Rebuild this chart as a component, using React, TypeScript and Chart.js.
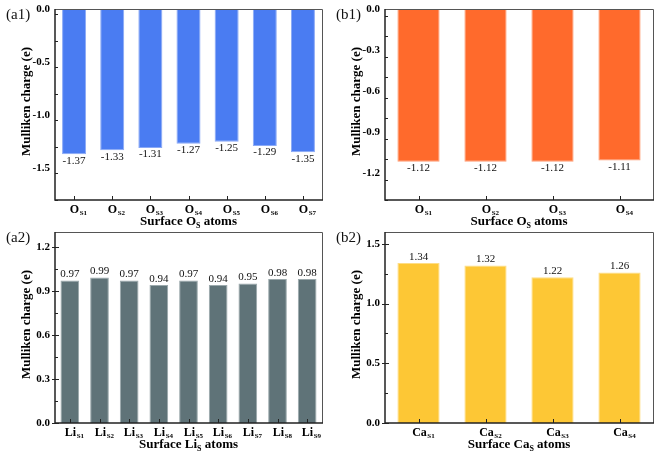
import React, { useEffect, useRef } from 'react';
import { Chart, registerables } from 'chart.js';

Chart.register(...registerables);

// ---- data ----
const a1Subs = ['S1', 'S2', 'S3', 'S4', 'S5', 'S6', 'S7'];
const a1Values = [-1.37, -1.33, -1.31, -1.27, -1.25, -1.29, -1.35];
const a1YTicks = [0, -0.5, -1.0, -1.5];

const b1Subs = ['S1', 'S2', 'S3', 'S4'];
const b1Values = [-1.12, -1.12, -1.12, -1.11];
const b1YTicks = [0, -0.3, -0.6, -0.9, -1.2];

const a2Subs = ['S1', 'S2', 'S3', 'S4', 'S5', 'S6', 'S7', 'S8', 'S9'];
const a2Values = [0.97, 0.99, 0.97, 0.94, 0.97, 0.94, 0.95, 0.98, 0.98];
const a2YTicks = [0, 0.3, 0.6, 0.9, 1.2];

const b2Subs = ['S1', 'S2', 'S3', 'S4'];
const b2Values = [1.34, 1.32, 1.22, 1.26];
const b2YTicks = [0, 0.5, 1.0, 1.5];

const SERIF = '"Liberation Serif", "Times New Roman", serif';

type Panel = {
  key: string;
  label: string;
  element: string;
  subs: string[];
  values: number[];
  yMin: number;
  yMax: number;
  yTicks: number[];
  minorStep: number;
  color: string;
  edge: string;
  left: number;
  top: number;
  width: number;
  height: number;
  padding: { left: number; right: number; top: number; bottom: number };
  labelY: number;
};

const panels: Panel[] = [
  {
    key: 'a1', label: '(a1)', element: 'O', subs: a1Subs, values: a1Values,
    yMin: -1.8, yMax: 0, yTicks: a1YTicks, minorStep: 0.25,
    color: '#4a7cf2', edge: '#8aa9f6',
    left: 0, top: 0, width: 330, height: 230,
    padding: { left: 55, right: 8, top: 9, bottom: 30 }, labelY: 15,
  },
  {
    key: 'b1', label: '(b1)', element: 'O', subs: b1Subs, values: b1Values,
    yMin: -1.4, yMax: 0, yTicks: b1YTicks, minorStep: 0.15,
    color: '#ff6a2c', edge: '#ff9d74',
    left: 330, top: 0, width: 331, height: 230,
    padding: { left: 55, right: 8, top: 9, bottom: 30 }, labelY: 15,
  },
  {
    key: 'a2', label: '(a2)', element: 'Li', subs: a2Subs, values: a2Values,
    yMin: 0, yMax: 1.3, yTicks: a2YTicks, minorStep: 0.15,
    color: '#5f7378', edge: '#9aa8ab',
    left: 0, top: 230, width: 330, height: 231,
    padding: { left: 55, right: 8, top: 2, bottom: 38 }, labelY: 8,
  },
  {
    key: 'b2', label: '(b2)', element: 'Ca', subs: b2Subs, values: b2Values,
    yMin: 0, yMax: 1.6, yTicks: b2YTicks, minorStep: 0.25,
    color: '#fdc735', edge: '#fedd85',
    left: 330, top: 230, width: 331, height: 231,
    padding: { left: 55, right: 8, top: 2, bottom: 38 }, labelY: 8,
  },
];

function makePlugin(p: Panel) {
  return {
    id: 'custom_' + p.key,
    afterDraw(chart: any) {
      const { ctx, chartArea: ca, scales } = chart;
      const xs = scales.x;
      const ys = scales.y;
      ctx.save();

      // frame (top/right)
      ctx.strokeStyle = '#555';
      ctx.lineWidth = 1;
      ctx.beginPath();
      ctx.moveTo(ca.left, ca.top + 0.5);
      ctx.lineTo(ca.right + 0.5, ca.top + 0.5);
      ctx.lineTo(ca.right + 0.5, ca.bottom);
      ctx.stroke();

      // axes (left/bottom)
      ctx.strokeStyle = '#222';
      ctx.lineWidth = 1.5;
      ctx.beginPath();
      ctx.moveTo(ca.left, ca.top);
      ctx.lineTo(ca.left, ca.bottom);
      ctx.lineTo(ca.right + 1, ca.bottom);
      ctx.stroke();

      // y ticks
      ctx.lineWidth = 1;
      ctx.strokeStyle = '#222';
      const lo = Math.min(p.yMin, p.yMax);
      const hi = Math.max(p.yMin, p.yMax);
      const nMinor = Math.round((hi - lo) / p.minorStep);
      for (let i = 0; i <= nMinor; i++) {
        const v = lo + i * p.minorStep;
        const py = Math.round(ys.getPixelForValue(v)) + 0.5;
        const isMajor = p.yTicks.some((t) => Math.abs(t - v) < 1e-6);
        ctx.beginPath();
        if (isMajor) {
          ctx.moveTo(ca.left - 3, py);
          ctx.lineTo(ca.left + 4, py);
        } else {
          ctx.moveTo(ca.left, py);
          ctx.lineTo(ca.left + 3, py);
        }
        ctx.stroke();
      }

      // y tick labels
      ctx.fillStyle = '#000';
      ctx.font = 'bold 11px ' + SERIF;
      ctx.textAlign = 'right';
      ctx.textBaseline = 'middle';
      p.yTicks.forEach((t) => {
        ctx.fillText(t.toFixed(1), ca.left - 5, ys.getPixelForValue(t));
      });

      // x ticks + labels
      p.subs.forEach((s, i) => {
        const px = Math.round(xs.getPixelForValue(i)) + 0.5;
        ctx.beginPath();
        ctx.moveTo(px, ca.bottom);
        ctx.lineTo(px, ca.bottom - 4);
        ctx.stroke();

        ctx.font = 'bold 12px ' + SERIF;
        ctx.textAlign = 'center';
        ctx.textBaseline = 'middle';
        const ly = ca.bottom + 9.5;
        ctx.fillText(p.element, px, ly);
        const w = ctx.measureText(p.element).width;
        ctx.font = 'bold 7px ' + SERIF;
        ctx.textAlign = 'left';
        ctx.fillText(s, px + w / 2 + 0.5, ly + 3.5);
      });

      // x title: Surface X_S atoms
      {
        const main1 = 'Surface ' + p.element;
        const sub = 'S';
        const main2 = ' atoms';
        ctx.font = 'bold 13px ' + SERIF;
        const w1 = ctx.measureText(main1).width;
        const w3 = ctx.measureText(main2).width;
        ctx.font = 'bold 8px ' + SERIF;
        const w2 = ctx.measureText(sub).width;
        const total = w1 + w2 + w3;
        const cx = (ca.left + ca.right) / 2;
        let x0 = cx - total / 2;
        const ty = ca.bottom + 21.5;
        ctx.textAlign = 'left';
        ctx.textBaseline = 'middle';
        ctx.font = 'bold 13px ' + SERIF;
        ctx.fillText(main1, x0, ty);
        x0 += w1;
        ctx.font = 'bold 8px ' + SERIF;
        ctx.fillText(sub, x0, ty + 4);
        x0 += w2;
        ctx.font = 'bold 13px ' + SERIF;
        ctx.fillText(main2, x0, ty);
      }

      // y title
      ctx.save();
      ctx.translate(27, (ca.top + ca.bottom) / 2 - 3);
      ctx.rotate(-Math.PI / 2);
      ctx.font = 'bold 13px ' + SERIF;
      ctx.textAlign = 'center';
      ctx.textBaseline = 'middle';
      ctx.fillText('Mulliken charge (e)', 0, 0);
      ctx.restore();

      // data labels
      ctx.font = '11px ' + SERIF;
      ctx.textAlign = 'center';
      ctx.textBaseline = 'middle';
      ctx.fillStyle = '#111';
      p.values.forEach((v, i) => {
        const px = xs.getPixelForValue(i);
        const py = ys.getPixelForValue(v);
        const off = v < 0 ? 6.5 : -6;
        ctx.fillText(v.toFixed(2), px, py + off);
      });

      // panel label
      ctx.font = '15px ' + SERIF;
      ctx.textAlign = 'left';
      ctx.textBaseline = 'middle';
      ctx.fillStyle = '#111';
      ctx.fillText(p.label, 6, p.labelY);

      ctx.restore();
    },
  };
}

function PanelChart({ p }: { p: Panel }) {
  const ref = useRef<HTMLCanvasElement | null>(null);
  useEffect(() => {
    if (!ref.current) return;
    const chart = new Chart(ref.current, {
      type: 'bar',
      data: {
        labels: p.subs.map((s) => p.element + s),
        datasets: [
          {
            data: p.values,
            backgroundColor: p.color,
            borderColor: p.edge,
            borderWidth: 1,
            borderSkipped: 'start',
            categoryPercentage: 1,
            barPercentage: 0.63,
          },
        ],
      },
      options: {
        responsive: false,
        animation: false,
        devicePixelRatio: 1,
        layout: { padding: p.padding },
        plugins: {
          legend: { display: false },
          tooltip: { enabled: false },
          title: { display: false },
        },
        scales: {
          x: { type: 'category', display: false, offset: true },
          y: { type: 'linear', display: false, min: p.yMin, max: p.yMax },
        },
      },
      plugins: [makePlugin(p)],
    } as any);
    return () => chart.destroy();
  }, [p]);
  return (
    <canvas
      ref={ref}
      width={p.width}
      height={p.height}
      style={{ position: 'absolute', left: p.left, top: p.top, width: p.width, height: p.height }}
    />
  );
}

export default function App() {
  return (
    <div style={{ position: 'absolute', left: 0, top: 0, width: 661, height: 461, background: '#fff' }}>
      {panels.map((p) => (
        <PanelChart key={p.key} p={p} />
      ))}
    </div>
  );
}
